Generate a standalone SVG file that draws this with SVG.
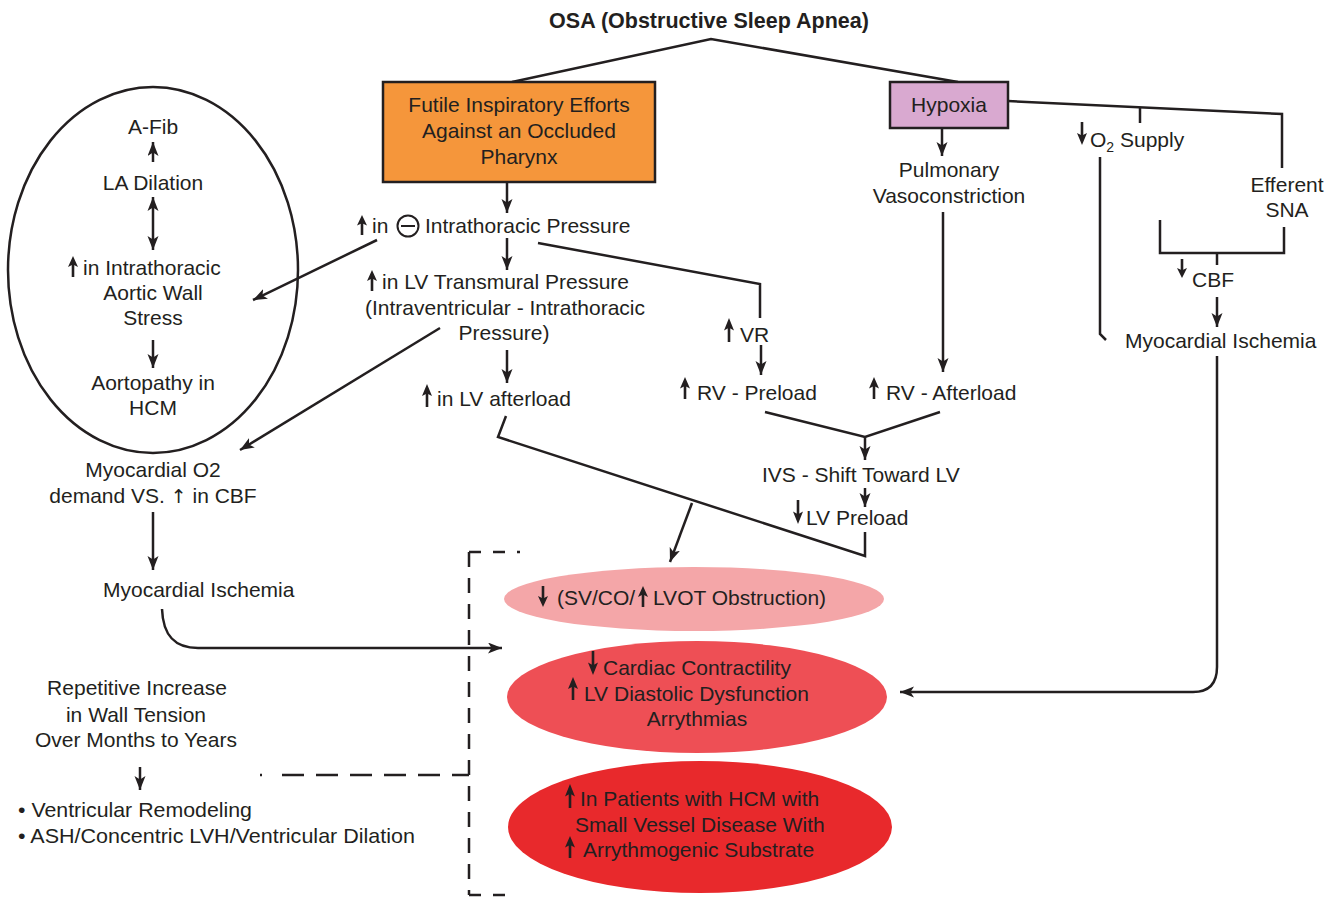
<svg xmlns="http://www.w3.org/2000/svg" xmlns:xlink="http://www.w3.org/1999/xlink" width="1337" height="897" viewBox="0 0 1337 897">
  <style>
    text { font-family: "Liberation Sans", Arial, sans-serif; font-size: 21px; fill: #231F20; }
    .c { text-anchor: middle; }
    .title { font-weight: bold; font-size: 21.5px; }
    .sym { font-family: "DejaVu Sans", sans-serif; font-size: 19px; }
    .ln { fill: none; stroke: #231F20; stroke-width: 2.5; stroke-linejoin: miter; }
    .ar { marker-end: url(#ah); }
    .dash { fill: none; stroke: #231F20; stroke-width: 2.5; }
    .box { stroke: #231F20; stroke-width: 2.5; }
  </style>
  <defs>
    <marker id="ah" markerUnits="userSpaceOnUse" markerWidth="15" markerHeight="12" refX="14" refY="5.5" orient="auto">
      <path d="M0,0 L14,5.5 L0,11 L3.5,5.5 Z" fill="#231F20"/>
    </marker>
    <marker id="ahs" markerUnits="userSpaceOnUse" markerWidth="15" markerHeight="12" refX="0" refY="5.5" orient="auto">
      <path d="M14,0 L0,5.5 L14,11 L10.5,5.5 Z" fill="#231F20"/>
    </marker>
    <!-- small filled up / down arrows used inline with labels -->
    <symbol id="ua" viewBox="0 0 8 22" preserveAspectRatio="none" overflow="visible">
      <path d="M4,0 L9,11.5 L4,9 L-1,11.5 Z" fill="#231F20"/>
      <path d="M4,8 V22" stroke="#231F20" stroke-width="2.6"/>
    </symbol>
    <symbol id="da" viewBox="0 0 8 22" preserveAspectRatio="none" overflow="visible">
      <path d="M4,22 L9,10.5 L4,13 L-1,10.5 Z" fill="#231F20"/>
      <path d="M4,0 V14" stroke="#231F20" stroke-width="2.6"/>
    </symbol>
  </defs>

  <rect width="1337" height="897" fill="#ffffff"/>

  <!-- connectors -->
  <g id="connectors">
    <path class="ln" d="M512,82 L711,39 L958,82"/>
    <path class="ln ar" d="M507,182 V213"/>
    <path class="ln ar" d="M507,238 V270"/>
    <path class="ln ar" d="M507,350 V383"/>
    <path class="ln ar" d="M377,240 L253,300"/>
    <path class="ln ar" d="M440,328 L240,450"/>
    <path class="ln ar" d="M942,128 V156"/>
    <path class="ln ar" d="M943,212 V372"/>
    <path class="ln" d="M538,243 L760,284 V318"/>
    <path class="ln ar" d="M761,345 V375"/>
    <path class="ln" d="M765,412 L865,437 L940,412"/>
    <path class="ln ar" d="M865,437 V460"/>
    <path class="ln ar" d="M865,488 V507"/>
    <path class="ln" d="M865,532 V556 L498,437 L506,416"/>
    <path class="ln ar" d="M692,503 L670,562"/>
    <path class="ln ar" d="M153,512 V570"/>
    <path class="ln ar" d="M162,609 C163,636 175,648 198,648 H502"/>
    <path class="ln ar" d="M1217,356 V667 C1217,684 1209,692 1193,692 H900"/>
    <path class="ln ar" d="M1217,297 V327"/>
    <path class="ln" d="M1008,101 L1282,114 V168"/>
    <path class="ln" d="M1140,108 V123"/>
    <path class="ln" d="M1100,157 V334 L1106,340"/>
    <path class="ln" d="M1160,220 V253 H1284 V227"/>
    <path class="ln" d="M1217,253 V265"/>
    <path class="ln ar" d="M153,162 V142"/>
    <path class="ln ar" d="M153,197 V250" marker-start="url(#ahs)"/>
    <path class="ln ar" d="M153,340 V368"/>
    <path class="ln ar" d="M140,767 V790"/>
    <!-- dashed outline -->
    <path class="dash" d="M469,552 H520" stroke-dasharray="12 12"/>
    <path class="dash" d="M469,552 V895" stroke-dasharray="15 11"/>
    <path class="dash" d="M469,895 H517" stroke-dasharray="12 12"/>
    <path class="dash" d="M260,775 H469" stroke-dasharray="2 20 22 12 22 12 22 12 22 12 22 12 22 12"/>
  </g>

  <!-- title -->
  <g id="osa">
    <text class="c title" x="709" y="28">OSA (Obstructive Sleep Apnea)</text>
  </g>

  <g id="futile">
    <rect class="box" x="383" y="82" width="272" height="100" fill="#F5963B"/>
    <text class="c" x="519" y="112">Futile Inspiratory Efforts</text>
    <text class="c" x="519" y="138">Against an Occluded</text>
    <text class="c" x="519" y="164">Pharynx</text>
  </g>

  <g id="hypoxia">
    <rect class="box" x="890" y="82" width="118" height="46" fill="#D9A9D0"/>
    <text class="c" x="949" y="112">Hypoxia</text>
  </g>

  <g id="pulmonary">
    <text class="c" x="949" y="177">Pulmonary</text>
    <text class="c" x="949" y="203">Vasoconstriction</text>
  </g>

  <g id="o2supply">
    <use xlink:href="#da" x="1078" y="122" width="8" height="23"/>
    <text x="1090" y="147">O<tspan font-size="14" dy="5">2</tspan><tspan dy="-5"> Supply</tspan></text>
  </g>

  <g id="efferent">
    <text class="c" x="1287" y="192">Efferent</text>
    <text class="c" x="1287" y="217">SNA</text>
  </g>

  <g id="cbf">
    <use xlink:href="#da" x="1178" y="259" width="8" height="19"/>
    <text x="1192" y="287">CBF</text>
  </g>

  <g id="ischemia-right">
    <text x="1125" y="348">Myocardial Ischemia</text>
  </g>

  <g id="intrathoracic">
    <use xlink:href="#ua" x="358" y="215" width="8" height="20"/>
    <text x="372" y="233">in</text>
    <circle cx="408" cy="226" r="10.5" fill="none" stroke="#231F20" stroke-width="2"/>
    <path d="M401,226 H415" stroke="#231F20" stroke-width="2"/>
    <text x="425" y="233">Intrathoracic Pressure</text>
  </g>

  <g id="transmural">
    <use xlink:href="#ua" x="368" y="270" width="8" height="21"/>
    <text x="382" y="289">in LV Transmural Pressure</text>
    <text class="c" x="505" y="315">(Intraventricular - Intrathoracic</text>
    <text class="c" x="504" y="340">Pressure)</text>
  </g>

  <g id="afterload">
    <use xlink:href="#ua" x="423" y="384" width="8" height="23"/>
    <text x="437" y="406">in LV afterload</text>
  </g>

  <g id="vr">
    <use xlink:href="#ua" x="725" y="318" width="8" height="24"/>
    <text x="740" y="342">VR</text>
  </g>

  <g id="rv-preload">
    <use xlink:href="#ua" x="681" y="377" width="8" height="22"/>
    <text x="697" y="400">RV - Preload</text>
  </g>

  <g id="rv-afterload">
    <use xlink:href="#ua" x="870" y="377" width="8" height="22"/>
    <text x="886" y="400">RV - Afterload</text>
  </g>

  <g id="ivs">
    <text x="762" y="482">IVS - Shift Toward LV</text>
  </g>

  <g id="lv-preload">
    <use xlink:href="#da" x="794" y="500" width="8" height="24"/>
    <text x="806" y="525">LV Preload</text>
  </g>

  <g id="aortic-group">
    <ellipse cx="153" cy="270" rx="145" ry="183" fill="none" stroke="#231F20" stroke-width="2.5"/>
    <text class="c" x="153" y="134">A-Fib</text>
    <text class="c" x="153" y="190">LA Dilation</text>
    <use xlink:href="#ua" x="69" y="256" width="8" height="21"/>
    <text x="83" y="275">in Intrathoracic</text>
    <text class="c" x="153" y="300">Aortic Wall</text>
    <text class="c" x="153" y="325">Stress</text>
    <text class="c" x="153" y="390">Aortopathy in</text>
    <text class="c" x="153" y="415">HCM</text>
  </g>

  <g id="o2-demand">
    <text class="c" x="153" y="477">Myocardial O2</text>
    <text class="c" x="153" y="503">demand VS. <tspan class="sym">↑</tspan> in CBF</text>
  </g>

  <g id="ischemia-left">
    <text x="103" y="597">Myocardial Ischemia</text>
  </g>

  <g id="wall-tension">
    <text class="c" x="137" y="695">Repetitive Increase</text>
    <text class="c" x="136" y="722">in Wall Tension</text>
    <text class="c" x="136" y="747">Over Months to Years</text>
  </g>

  <g id="remodeling">
    <text x="18" y="817" textLength="234" lengthAdjust="spacingAndGlyphs">• Ventricular Remodeling</text>
    <text x="18" y="843" textLength="397" lengthAdjust="spacingAndGlyphs">• ASH/Concentric LVH/Ventricular Dilation</text>
  </g>

  <g id="sv-co">
    <ellipse cx="694" cy="599" rx="190" ry="32" fill="#F4A6A8"/>
    <use xlink:href="#da" x="539" y="586" width="8" height="21"/>
    <text x="557" y="605">(SV/CO/</text>
    <use xlink:href="#ua" x="639" y="586" width="8" height="21"/>
    <text x="653" y="605">LVOT Obstruction)</text>
  </g>

  <g id="contractility">
    <ellipse cx="697" cy="697" rx="190" ry="56" fill="#EE4F55"/>
    <use xlink:href="#da" x="589" y="651" width="8" height="24"/>
    <text x="603" y="675">Cardiac Contractility</text>
    <use xlink:href="#ua" x="569" y="677" width="8" height="23"/>
    <text x="584" y="701">LV Diastolic Dysfunction</text>
    <text class="c" x="697" y="726">Arrythmias</text>
  </g>

  <g id="hcm">
    <ellipse cx="700" cy="827" rx="192" ry="66" fill="#E8292C"/>
    <use xlink:href="#ua" x="566" y="784" width="8" height="24"/>
    <text x="580" y="806">In Patients with HCM with</text>
    <text x="575" y="832">Small Vessel Disease With</text>
    <use xlink:href="#ua" x="566" y="836" width="8" height="22"/>
    <text x="583" y="857">Arrythmogenic Substrate</text>
  </g>
</svg>
